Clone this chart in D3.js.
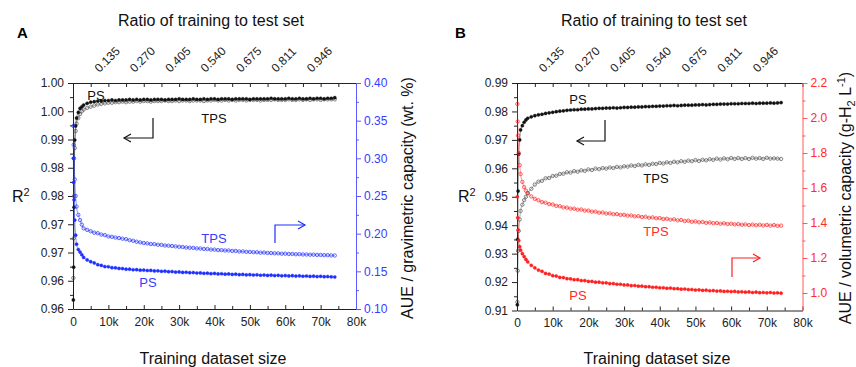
<!DOCTYPE html>
<html>
<head>
<meta charset="utf-8">
<script src="https://cdn.jsdelivr.net/npm/d3@7"></script>
<style>
  body { margin: 0; background: #fff; }
  text { font-family: Arial, "Liberation Sans", sans-serif; }
</style>
</head>
<body>
<div id="chart"></div>
<script>
// training dataset sizes shared by every series
const sizes = [100, 200, 300, 500, 750, 1000, 1500, 2000, 2500, 3000,
  4000, 5000, 6000, 7000, 8000, 9000, 10000, 11000, 12000, 13000,
  14000, 15000, 16000, 17000, 18000, 19000, 20000, 21000, 22000, 23000,
  24000, 25000, 26000, 27000, 28000, 29000, 30000, 31000, 32000, 33000,
  34000, 35000, 36000, 37000, 38000, 39000, 40000, 41000, 42000, 43000,
  44000, 45000, 46000, 47000, 48000, 49000, 50000, 51000, 52000, 53000,
  54000, 55000, 56000, 57000, 58000, 59000, 60000, 61000, 62000, 63000,
  64000, 65000, 66000, 67000, 68000, 69000, 70000, 71000, 72000, 73000,
  74000];

// tick values / labels
const sizeTicks = [0, 10000, 20000, 30000, 40000, 50000, 60000, 70000, 80000];
const sizeLabels = ["0", "10k", "20k", "30k", "40k", "50k", "60k", "70k", "80k"];
const sizeMinorTicks = [5000, 15000, 25000, 35000, 45000, 55000, 65000, 75000];
const ratioTicks = [10000, 20000, 30000, 40000, 50000, 60000, 70000];
const ratioLabels = ["0.135", "0.270", "0.405", "0.540", "0.675", "0.811", "0.946"];

const r2TicksA = [0.960, 0.965, 0.970, 0.975, 0.980, 0.985, 0.990, 0.995, 1.000];
const r2LabelsA = ["0.96", "0.96", "0.97", "0.97", "0.98", "0.98", "0.99", "1.00", "1.00"];
const aueTicksA = [0.10, 0.15, 0.20, 0.25, 0.30, 0.35, 0.40];
const aueLabelsA = ["0.10", "0.15", "0.20", "0.25", "0.30", "0.35", "0.40"];

const r2TicksB = [0.91, 0.92, 0.93, 0.94, 0.95, 0.96, 0.97, 0.98, 0.99];
const r2LabelsB = ["0.91", "0.92", "0.93", "0.94", "0.95", "0.96", "0.97", "0.98", "0.99"];
const aueTicksB = [1.0, 1.2, 1.4, 1.6, 1.8, 2.0, 2.2];
const aueLabelsB = ["1.0", "1.2", "1.4", "1.6", "1.8", "2.0", "2.2"];

// panel A : R2 (left axis)
const r2PsA = [0.9616, 0.9674, 0.9780, 0.9899, 0.9924, 0.9938, 0.9948, 0.9955, 0.9958, 0.9961,
  0.9964, 0.9966, 0.9967, 0.9968, 0.9968, 0.9969, 0.9969, 0.9970, 0.9969, 0.9970,
  0.9970, 0.9970, 0.9971, 0.9970, 0.9971, 0.9970, 0.9971, 0.9971, 0.9970, 0.9971,
  0.9971, 0.9971, 0.9970, 0.9971, 0.9971, 0.9971, 0.9972, 0.9971, 0.9971, 0.9971,
  0.9972, 0.9971, 0.9971, 0.9972, 0.9971, 0.9972, 0.9972, 0.9971, 0.9972, 0.9972,
  0.9972, 0.9971, 0.9972, 0.9972, 0.9972, 0.9972, 0.9971, 0.9972, 0.9972, 0.9972,
  0.9972, 0.9972, 0.9973, 0.9972, 0.9972, 0.9972, 0.9972, 0.9973, 0.9972, 0.9972,
  0.9973, 0.9972, 0.9972, 0.9973, 0.9972, 0.9973, 0.9973, 0.9972, 0.9973, 0.9973,
  0.9974];
const r2TpsA = [0.9655, 0.9725, 0.9800, 0.9885, 0.9915, 0.9928, 0.9938, 0.9945, 0.9950, 0.9953,
  0.9956, 0.9958, 0.9960, 0.9962, 0.9963, 0.9964, 0.9965, 0.9965, 0.9966, 0.9966,
  0.9967, 0.9966, 0.9967, 0.9967, 0.9968, 0.9967, 0.9968, 0.9968, 0.9967, 0.9968,
  0.9968, 0.9968, 0.9969, 0.9968, 0.9968, 0.9969, 0.9968, 0.9969, 0.9969, 0.9968,
  0.9969, 0.9969, 0.9969, 0.9968, 0.9969, 0.9969, 0.9970, 0.9969, 0.9969, 0.9970,
  0.9969, 0.9970, 0.9969, 0.9970, 0.9970, 0.9969, 0.9970, 0.9970, 0.9970, 0.9969,
  0.9970, 0.9970, 0.9970, 0.9971, 0.9970, 0.9970, 0.9970, 0.9971, 0.9970, 0.9970,
  0.9971, 0.9970, 0.9971, 0.9970, 0.9971, 0.9971, 0.9970, 0.9971, 0.9971, 0.9971,
  0.9971];
// panel A : AUE gravimetric (right axis)
const auePsA = [0.300, 0.268, 0.245, 0.218, 0.198, 0.186, 0.179, 0.1755, 0.172, 0.1685,
  0.1652, 0.1628, 0.1612, 0.1588, 0.1578, 0.1563, 0.1561, 0.1548, 0.1547, 0.1538,
  0.1537, 0.1528, 0.1529, 0.1521, 0.1522, 0.1515, 0.1517, 0.1511, 0.1512, 0.1505,
  0.1507, 0.1500, 0.1502, 0.1495, 0.1497, 0.1490, 0.1492, 0.1486, 0.1488, 0.1482,
  0.1484, 0.1478, 0.1479, 0.1473, 0.1475, 0.1469, 0.1472, 0.1466, 0.1468, 0.1462,
  0.1465, 0.1459, 0.1462, 0.1456, 0.1459, 0.1453, 0.1456, 0.1451, 0.1454, 0.1448,
  0.1451, 0.1446, 0.1449, 0.1444, 0.1447, 0.1441, 0.1444, 0.1439, 0.1442, 0.1437,
  0.1440, 0.1435, 0.1438, 0.1433, 0.1436, 0.1431, 0.1434, 0.1429, 0.1431, 0.1427,
  0.1425];
const aueTpsA = [0.343, 0.318, 0.300, 0.272, 0.250, 0.236, 0.225, 0.218, 0.212, 0.207,
  0.2050, 0.2032, 0.2013, 0.2006, 0.1988, 0.1981, 0.1963, 0.1958, 0.1948, 0.1942,
  0.1933, 0.1927, 0.1913, 0.1906, 0.1893, 0.1884, 0.1876, 0.1871, 0.1862, 0.1861,
  0.1853, 0.1851, 0.1843, 0.1841, 0.1836, 0.1831, 0.1826, 0.1823, 0.1816, 0.1813,
  0.1811, 0.1804, 0.1803, 0.1797, 0.1796, 0.1789, 0.1788, 0.1782, 0.1781, 0.1777,
  0.1777, 0.1771, 0.1771, 0.1764, 0.1764, 0.1759, 0.1758, 0.1754, 0.1753, 0.1748,
  0.1749, 0.1744, 0.1743, 0.1739, 0.1739, 0.1734, 0.1734, 0.1731, 0.1731, 0.1727,
  0.1728, 0.1724, 0.1724, 0.1721, 0.1721, 0.1718, 0.1718, 0.1715, 0.1715, 0.1712,
  0.1710];

// panel B : R2 (left axis)
const r2PsB = [0.912, 0.935, 0.952, 0.965, 0.970, 0.9735, 0.9750, 0.9762, 0.9770, 0.9776,
  0.9781, 0.9785, 0.9788, 0.9790, 0.9793, 0.9795, 0.9797, 0.9799, 0.9801, 0.9802,
  0.9804, 0.9805, 0.9806, 0.9806, 0.9808, 0.9808, 0.9809, 0.9809, 0.9810, 0.9811,
  0.9811, 0.9812, 0.9812, 0.9813, 0.9812, 0.9813, 0.9814, 0.9814, 0.9815, 0.9815,
  0.9816, 0.9816, 0.9817, 0.9817, 0.9818, 0.9818, 0.9819, 0.9819, 0.9820, 0.9820,
  0.9821, 0.9820, 0.9821, 0.9822, 0.9822, 0.9822, 0.9823, 0.9823, 0.9824, 0.9823,
  0.9824, 0.9825, 0.9825, 0.9826, 0.9826, 0.9826, 0.9827, 0.9827, 0.9827, 0.9828,
  0.9828, 0.9828, 0.9829, 0.9828, 0.9829, 0.9829, 0.9829, 0.9830, 0.9829, 0.9830,
  0.9831];
const r2TpsB = [0.913, 0.924, 0.931, 0.938, 0.942, 0.945, 0.9472, 0.9488, 0.9500, 0.9512,
  0.9528, 0.9543, 0.9553, 0.9556, 0.9565, 0.9566, 0.9573, 0.9574, 0.9580, 0.9581,
  0.9586, 0.9585, 0.9590, 0.9588, 0.9593, 0.9591, 0.9596, 0.9594, 0.9599, 0.9597,
  0.9601, 0.9599, 0.9603, 0.9601, 0.9605, 0.9603, 0.9607, 0.9606, 0.9610, 0.9608,
  0.9612, 0.9610, 0.9614, 0.9612, 0.9616, 0.9615, 0.9619, 0.9617, 0.9621, 0.9619,
  0.9623, 0.9621, 0.9625, 0.9623, 0.9627, 0.9625, 0.9629, 0.9626, 0.9630, 0.9628,
  0.9632, 0.9630, 0.9634, 0.9631, 0.9635, 0.9632, 0.9636, 0.9633, 0.9636, 0.9633,
  0.9636, 0.9633, 0.9637, 0.9634, 0.9636, 0.9633, 0.9637, 0.9634, 0.9635, 0.9634,
  0.9633];
// panel B : AUE volumetric (right axis)
const auePsB = [1.55, 1.43, 1.36, 1.30, 1.265, 1.245, 1.225, 1.208, 1.192, 1.178,
  1.158, 1.144, 1.131, 1.124, 1.112, 1.108, 1.099, 1.097, 1.089, 1.088,
  1.082, 1.081, 1.076, 1.076, 1.071, 1.071, 1.066, 1.066, 1.062, 1.062,
  1.058, 1.058, 1.054, 1.054, 1.050, 1.050, 1.046, 1.046, 1.042, 1.043,
  1.039, 1.039, 1.036, 1.036, 1.033, 1.033, 1.030, 1.030, 1.027, 1.028,
  1.025, 1.025, 1.022, 1.023, 1.020, 1.020, 1.017, 1.018, 1.015, 1.016,
  1.013, 1.014, 1.011, 1.012, 1.009, 1.010, 1.008, 1.009, 1.006, 1.007,
  1.005, 1.006, 1.003, 1.005, 1.002, 1.003, 1.001, 1.003, 1.000, 1.001,
  0.999];
const aueTpsB = [2.08, 1.98, 1.90, 1.80, 1.73, 1.68, 1.635, 1.605, 1.585, 1.572,
  1.552, 1.538, 1.530, 1.519, 1.516, 1.508, 1.506, 1.498, 1.496, 1.489,
  1.488, 1.482, 1.482, 1.476, 1.477, 1.471, 1.471, 1.465, 1.465, 1.459,
  1.460, 1.454, 1.455, 1.450, 1.451, 1.446, 1.447, 1.442, 1.443, 1.438,
  1.439, 1.434, 1.436, 1.430, 1.432, 1.427, 1.428, 1.423, 1.424, 1.419,
  1.421, 1.415, 1.417, 1.411, 1.413, 1.407, 1.409, 1.404, 1.406, 1.401,
  1.403, 1.399, 1.400, 1.396, 1.398, 1.394, 1.396, 1.392, 1.394, 1.390,
  1.392, 1.388, 1.391, 1.387, 1.390, 1.386, 1.389, 1.385, 1.388, 1.384,
  1.385];

const W = 856, H = 367;
const svg = d3.select("#chart").append("svg").attr("width", W).attr("height", H);

// draws one panel (A or B)
function drawPanel(p) {
  const g = svg.append("g");
  const x = d3.scaleLinear().domain([0, 80000]).range([p.left, p.right]);
  const yL = d3.scaleLinear().domain(p.r2Domain).range([p.bottom, p.top]);
  const yR = d3.scaleLinear().domain(p.aueDomain).range([p.bottom, p.top]);

  const styleAxis = (sel, color, textColor) => {
    sel.selectAll("path, line").attr("stroke", color).attr("stroke-width", 1);
    sel.selectAll("text").attr("fill", textColor).style("font-size", "12px")
      .style("font-family", "Arial, 'Liberation Sans', sans-serif");
  };

  // bottom axis (ticks pointing in)
  const bottom = g.append("g").attr("transform", `translate(0,${p.bottom})`)
    .call(d3.axisBottom(x).tickValues(sizeTicks).tickFormat((d, i) => sizeLabels[i])
      .tickSizeInner(-4).tickSizeOuter(0).tickPadding(8));
  styleAxis(bottom, "#222", "#222");
  g.append("g").attr("transform", `translate(0,${p.bottom})`)
    .call(d3.axisBottom(x).tickValues(sizeMinorTicks).tickFormat("").tickSizeInner(-3).tickSizeOuter(0))
    .call(s => { s.select(".domain").remove(); styleAxis(s, "#222", "#222"); });

  // top axis (ratio), ticks every 5k pointing in
  g.append("g").attr("transform", `translate(0,${p.top})`)
    .call(d3.axisTop(x).tickValues(sizeTicks.concat(sizeMinorTicks)).tickFormat("")
      .tickSizeInner(-4).tickSizeOuter(0))
    .call(s => styleAxis(s, "#222", "#222"));
  g.selectAll(".ratioLabel").data(ratioTicks).join("text")
    .attr("class", "ratioLabel")
    .attr("transform", (d) => `translate(${x(d) - 9},${p.top - 10}) rotate(-45)`)
    .attr("text-anchor", "start").attr("fill", "#222").style("font-size", "12px")
    .text((d, i) => ratioLabels[i]);

  // left axis R2
  const left = g.append("g").attr("transform", `translate(${p.left},0)`)
    .call(d3.axisLeft(yL).tickValues(p.r2Ticks).tickFormat((d, i) => p.r2Labels[i])
      .tickSizeInner(5).tickSizeOuter(0).tickPadding(4));
  styleAxis(left, "#222", "#222");
  g.append("g").attr("transform", `translate(${p.left},0)`)
    .call(d3.axisLeft(yL).tickValues(d3.pairs(p.r2Ticks).map(d => (d[0] + d[1]) / 2))
      .tickFormat("").tickSizeInner(3).tickSizeOuter(0))
    .call(s => { s.select(".domain").remove(); styleAxis(s, "#222", "#222"); });

  // right axis AUE
  const right = g.append("g").attr("transform", `translate(${p.right},0)`)
    .call(d3.axisRight(yR).tickValues(p.aueTicks).tickFormat((d, i) => p.aueLabels[i])
      .tickSizeInner(5).tickSizeOuter(0).tickPadding(3));
  styleAxis(right, p.axisColor, p.textColor);
  g.append("g").attr("transform", `translate(${p.right},0)`)
    .call(d3.axisRight(yR).tickValues(d3.pairs(p.aueTicks).map(d => (d[0] + d[1]) / 2))
      .tickFormat("").tickSizeInner(3).tickSizeOuter(0))
    .call(s => { s.select(".domain").remove(); styleAxis(s, p.axisColor, p.textColor); });

  // series
  const series = (vals, y, color, open) => {
    const pts = sizes.map((s, i) => [s, vals[i]]);
    g.append("path").datum(pts)
      .attr("d", d3.line().x(d => x(d[0])).y(d => y(d[1])).curve(d3.curveMonotoneX))
      .attr("fill", "none").attr("stroke", color).attr("stroke-width", 0.9).attr("stroke-opacity", 0.55);
    g.append("g").selectAll("circle").data(pts).join("circle")
      .attr("cx", d => x(d[0])).attr("cy", d => y(d[1]))
      .attr("r", open ? 1.7 : 1.6)
      .attr("fill", open ? "#fff" : color).attr("fill-opacity", open ? 0 : 1)
      .attr("stroke", color).attr("stroke-width", open ? 0.7 : 0.4);
  };
  series(p.r2Tps, yL, "#555", true);
  series(p.r2Ps, yL, "#111", false);
  series(p.aueTps, yR, p.dataColor, true);
  series(p.auePs, yR, p.dataColor, false);

  // arrows
  const arrow = (pts, color, dir) => {
    g.append("path").attr("d", d3.line()(pts)).attr("fill", "none")
      .attr("stroke", color).attr("stroke-width", 1.2);
    const [ex, ey] = pts[pts.length - 1];
    g.append("path").attr("d", d3.line()([[ex - dir * 7, ey - 4], [ex, ey], [ex - dir * 7, ey + 4]]))
      .attr("fill", "none").attr("stroke", color).attr("stroke-width", 1.2);
  };
  arrow(p.blackArrow, "#111", -1);
  arrow(p.colorArrow, p.dataColor, 1);

  // series labels
  const label = (t, pos, color) => g.append("text").attr("x", pos[0]).attr("y", pos[1])
    .attr("text-anchor", "middle").attr("dy", "0.35em").attr("fill", color)
    .style("font-size", "13px").text(t);
  label("PS", p.psBlackPos, "#111");
  label("TPS", p.tpsBlackPos, "#111");
  label("TPS", p.tpsColorPos, p.textColor);
  label("PS", p.psColorPos, p.textColor);

  // titles
  g.append("text").attr("x", p.topTitleX).attr("y", 26).attr("text-anchor", "middle")
    .attr("fill", "#111").style("font-size", "16px").text("Ratio of training to test set");
  g.append("text").attr("x", p.xTitleX).attr("y", 364).attr("text-anchor", "middle")
    .attr("fill", "#111").style("font-size", "16px").text("Training dataset size");
  g.append("text").attr("x", p.letterX).attr("y", 38).attr("fill", "#000")
    .style("font-size", "15px").style("font-weight", "bold").text(p.letter);
  const r2 = g.append("text").attr("x", p.r2X).attr("y", 202).attr("fill", "#111").style("font-size", "16px");
  r2.append("tspan").text("R");
  r2.append("tspan").attr("dy", -6).style("font-size", "11px").text("2");

  const rt = g.append("text").attr("transform", `translate(${p.rightTitleX},198) rotate(-90)`)
    .attr("text-anchor", "middle").attr("dy", "0.35em").attr("fill", "#111").style("font-size", "16px");
  p.rightTitle(rt);
}

drawPanel({
  left: 73, right: 356, top: 83, bottom: 309,
  r2Domain: [0.96, 1.00], aueDomain: [0.10, 0.40],
  r2Ticks: r2TicksA, r2Labels: r2LabelsA, aueTicks: aueTicksA, aueLabels: aueLabelsA,
  r2Ps: r2PsA, r2Tps: r2TpsA, auePs: auePsA, aueTps: aueTpsA,
  dataColor: "#1f2fff", axisColor: "#5a5aff", textColor: "#3a3aff",
  blackArrow: [[153, 118], [153, 138], [124, 138]],
  colorArrow: [[275, 243], [275, 225], [305, 225]],
  psBlackPos: [96, 95], tpsBlackPos: [214, 118], tpsColorPos: [214, 238], psColorPos: [148, 282],
  topTitleX: 211, xTitleX: 213, letter: "A", letterX: 17, r2X: 12, rightTitleX: 407,
  rightTitle: t => t.text("AUE / gravimetric capacity (wt. %)")
});

drawPanel({
  left: 517, right: 802.5, top: 83, bottom: 310.5,
  r2Domain: [0.91, 0.99], aueDomain: [0.9, 2.2],
  r2Ticks: r2TicksB, r2Labels: r2LabelsB, aueTicks: aueTicksB, aueLabels: aueLabelsB,
  r2Ps: r2PsB, r2Tps: r2TpsB, auePs: auePsB, aueTps: aueTpsB,
  dataColor: "#ff1f1f", axisColor: "#ff5a5a", textColor: "#ff2a2a",
  blackArrow: [[605, 120], [605, 141], [577, 141]],
  colorArrow: [[732, 277], [732, 258], [760, 258]],
  psBlackPos: [578, 99], tpsBlackPos: [656, 178], tpsColorPos: [656, 231], psColorPos: [578, 295],
  topTitleX: 654, xTitleX: 657, letter: "B", letterX: 455, r2X: 458, rightTitleX: 845,
  rightTitle: t => {
    t.append("tspan").text("AUE / volumetric capacity (g-H");
    t.append("tspan").attr("dy", 4).style("font-size", "11px").text("2");
    t.append("tspan").attr("dy", -4).text(" L");
    t.append("tspan").attr("dy", -6).style("font-size", "11px").text("-1");
    t.append("tspan").attr("dy", 6).text(")");
  }
});
</script>
</body>
</html>
